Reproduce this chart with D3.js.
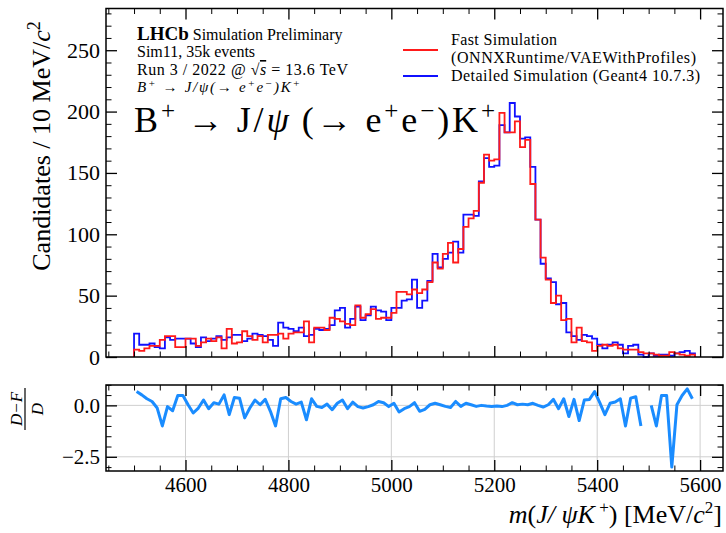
<!DOCTYPE html>
<html><head><meta charset="utf-8">
<script src="https://cdn.jsdelivr.net/npm/d3@7"></script>
<style>
body{margin:0;background:#fff;}
svg text{font-family:"Liberation Serif","Times New Roman",serif;fill:#000;}
</style></head>
<body><svg id="c" width="726" height="533"></svg>
<script>
// ---- data ----
const binStart = 4500;   // MeV, first bin edge
const binWidth = 10;     // MeV
const detailed = [19,10,10,11,8,7,16,14,15,15,
  15,11,8,16,13,15,17,14,16,18,
  18,13,15,19,18,17,14,9,28,24,
  23,21,24,17,18,23,22,23,26,38,
  40,24,31,41,30,34,41,38,37,30,
  40,40,46,47,63,40,46,62,84,73,
  80,85,94,85,116,116,115,143,162,155,
  156,189,183,207,196,178,179,155,112,76,
  64,61,43,44,20,17,14,18,17,15,
  10,7,10,12,10,3,9,10,2,0,
  3,1,2,2,1,3,4,5,3];
const fast = [6,5,7,9,9,14,17,17,8,8,
  15,15,9,12,15,13,16,7,23,11,
  12,21,17,14,17,12,18,18,19,15,
  19,20,20,29,12,24,24,22,32,31,
  29,27,26,42,32,35,39,31,32,32,
  36,53,53,51,55,52,55,61,77,72,
  84,93,77,88,106,113,119,142,165,160,
  161,199,183,183,192,171,177,141,112,81,
  63,44,50,30,31,12,24,13,12,5,
  9,10,9,10,7,6,6,6,4,3,
  3,2,1,1,4,3,2,1,2];
const ratio = [0.67,0.51,0.32,0.19,-0.13,-1.0,-0.06,-0.26,0.48,0.48,
  0.03,-0.37,-0.13,0.26,-0.16,0.13,0.06,0.51,-0.45,0.38,
  0.35,-0.61,-0.13,0.26,0.03,0.29,-0.29,-1.0,0.32,0.38,
  0.19,0.06,0.16,-0.7,0.32,-0.05,-0.1,0.06,-0.21,0.1,
  0.26,-0.16,0.16,-0.06,-0.13,-0.06,0.03,0.19,0.13,-0.06,
  0.1,-0.32,-0.16,-0.06,0.13,-0.29,-0.19,0.03,0.1,0.03,
  -0.05,-0.1,0.19,-0.05,0.1,0.03,-0.05,0,-0.03,-0.05,
  -0.03,-0.06,0,0.13,0.03,0.06,0.03,0.1,0,-0.08,
  0.03,0.29,-0.16,0.32,-0.54,0.29,-0.74,0.26,0.29,0.67,
  0.13,-0.45,0.1,0.16,0.32,-1.0,0.35,0.42,-1.0,null,
  0,-1.0,0.48,0.48,-3.0,0.03,0.48,0.8,0.32];
const xMajorTicks = [4600,4800,5000,5200,5400,5600];
const yMajorTicks = [0,50,100,150,200,250];
const rMajorTicks = [0.0,-2.5];
const legendLabels = [["Fast Simulation","(ONNXRuntime/VAEWithProfiles)"],["Detailed Simulation (Geant4 10.7.3)"]];
const colors = {fast:"#ff1a1a", detailed:"#1010ff", ratio:"#1a8cff"};

// ---- layout ----
const svg = d3.select("#c");
const L = 106, R = 723, mainTop = 8.5, mainBot = 357, rTop = 385, rBot = 471;
const x = d3.scaleLinear().domain([4445.5, 5644.5]).range([L, R]);
const y = d3.scaleLinear().domain([0, 284]).range([mainBot, mainTop]);
const yr = d3.scaleLinear().domain([-3.19, 0.99]).range([rBot, rTop]);

const nb = detailed.length;
const edges = d3.range(nb + 1).map(i => binStart + i * binWidth);
const centers = d3.range(nb).map(i => binStart + (i + 0.5) * binWidth);

// ratio grid
const gGrid = svg.append("g");
xMajorTicks.forEach(t => gGrid.append("line").attr("x1", x(t)).attr("x2", x(t)).attr("y1", rTop).attr("y2", rBot)
  .attr("stroke", "#cfcfcf").attr("stroke-width", 1));
rMajorTicks.forEach(t => gGrid.append("line").attr("x1", L).attr("x2", R).attr("y1", yr(t)).attr("y2", yr(t))
  .attr("stroke", "#cfcfcf").attr("stroke-width", 1));

// histograms
function stepPts(vals) {
  const pts = [[edges[0], 0]];
  vals.forEach((v, i) => { pts.push([edges[i], v]); pts.push([edges[i + 1], v]); });
  pts.push([edges[nb], 0]);
  return pts;
}
const line = d3.line().x(d => x(d[0])).y(d => y(d[1]));
svg.append("path").attr("d", line(stepPts(detailed))).attr("fill", "none")
  .attr("stroke", colors.detailed).attr("stroke-width", 1.8);
svg.append("path").attr("d", line(stepPts(fast))).attr("fill", "none")
  .attr("stroke", colors.fast).attr("stroke-width", 1.8);

// ratio line
const rl = d3.line().defined(d => d[1] !== null).x(d => x(d[0])).y(d => yr(d[1]));
svg.append("path").attr("d", rl(centers.map((c, i) => [c, ratio[i]]))).attr("fill", "none")
  .attr("stroke", colors.ratio).attr("stroke-width", 3).attr("stroke-linejoin", "round");

// axes helper
function ax(gen, tx, ty, vals, size, fmt, fs) {
  const a = gen.tickValues(vals).tickSizeInner(-size).tickSizeOuter(0).tickPadding(6)
    .tickFormat(fmt || "");
  const g = svg.append("g").attr("transform", `translate(${tx},${ty})`).call(a);
  g.select(".domain").remove();
  g.selectAll("line").attr("stroke", "#000").attr("stroke-width", size > 6 ? 1.3 : 1);
  g.selectAll("text").style("font-size", (fs || 21) + "px").style("font-family", "Liberation Serif, serif");
  return g;
}
const xMinor = d3.range(4450, 5650, 50).filter(v => v % 200 !== 0);
const yMinor = d3.range(0, 285, 10).filter(v => v % 50 !== 0);
const rMinor = [1.0, 0.5, -0.5, -1.0, -1.5, -2.0, -3.0];

// main panel
ax(d3.axisLeft(y), L, 0, yMajorTicks, 11, d3.format("d"), 22);
ax(d3.axisLeft(y), L, 0, yMinor, 5.5);
ax(d3.axisRight(y), R, 0, yMajorTicks, 11);
ax(d3.axisRight(y), R, 0, yMinor, 5.5);
ax(d3.axisBottom(x), 0, mainBot, xMajorTicks, 11);
ax(d3.axisBottom(x), 0, mainBot, xMinor, 5.5);
ax(d3.axisTop(x), 0, mainTop, xMajorTicks, 11);
ax(d3.axisTop(x), 0, mainTop, xMinor, 5.5);
// ratio panel
ax(d3.axisLeft(yr), L, 0, rMajorTicks, 11, d3.format(".1f"), 21);
ax(d3.axisLeft(yr), L, 0, rMinor, 5.5);
ax(d3.axisRight(yr), R, 0, rMajorTicks, 11);
ax(d3.axisRight(yr), R, 0, rMinor, 5.5);
ax(d3.axisBottom(x), 0, rBot, xMajorTicks, 11, d3.format("d"), 21);
ax(d3.axisBottom(x), 0, rBot, xMinor, 5.5);
ax(d3.axisTop(x), 0, rTop, xMajorTicks, 11);
ax(d3.axisTop(x), 0, rTop, xMinor, 5.5);

// frames
svg.append("rect").attr("x", L).attr("y", mainTop).attr("width", R - L).attr("height", mainBot - mainTop)
  .attr("fill", "none").attr("stroke", "#000").attr("stroke-width", 1.5);
svg.append("rect").attr("x", L).attr("y", rTop).attr("width", R - L).attr("height", rBot - rTop)
  .attr("fill", "none").attr("stroke", "#000").attr("stroke-width", 1.5);

// y label
const yl = svg.append("text").attr("transform", "translate(50,146) rotate(-90)").attr("text-anchor", "middle")
  .style("font-size", "26px");
yl.append("tspan").text("Candidates / 10 MeV/");
yl.append("tspan").style("font-style", "italic").text("c");
yl.append("tspan").attr("dy", -10).style("font-size", "18px").text("2");

// ratio y label (fraction)
const fr = svg.append("g").attr("transform", "translate(24,409) rotate(-90)");
fr.append("text").attr("text-anchor", "middle").attr("y", -2).style("font-size", "17px").style("font-style", "italic").text("D−F");
fr.append("line").attr("x1", -21).attr("x2", 21).attr("y1", 1).attr("y2", 1).attr("stroke", "#000").attr("stroke-width", 1.2);
fr.append("text").attr("text-anchor", "middle").attr("y", 19).style("font-size", "17px").style("font-style", "italic").text("D");

// x label
const xl = svg.append("text").attr("x", 722).attr("y", 523).attr("text-anchor", "end").style("font-size", "26px");
xl.append("tspan").style("font-style", "italic").text("m");
xl.append("tspan").text("(");
xl.append("tspan").style("font-style", "italic").text("J/ ψK");
xl.append("tspan").attr("dy", -10).style("font-size", "17px").text(" +");
xl.append("tspan").attr("dy", 10).text(") [MeV/");
xl.append("tspan").style("font-style", "italic").text("c");
xl.append("tspan").attr("dy", -10).style("font-size", "17px").text("2");
xl.append("tspan").attr("dy", 10).text("]");

// annotations
const t1 = svg.append("text").attr("x", 137).attr("y", 40);
t1.append("tspan").style("font-weight", "bold").style("font-size", "19px").text("LHCb");
t1.append("tspan").style("font-size", "16px").text(" Simulation Preliminary");
svg.append("text").attr("x", 137).attr("y", 57).style("font-size", "16px").text("Sim11, 35k events");
const t3 = svg.append("text").attr("x", 137).attr("y", 75).style("font-size", "16px")
  .attr("textLength", 211).attr("lengthAdjust", "spacing");
t3.append("tspan").text("Run 3 / 2022 @ √");
t3.append("tspan").style("font-style", "italic").style("text-decoration", "overline").text("s");
t3.append("tspan").text(" = 13.6 TeV");
const t4 = svg.append("text").attr("x", 137).attr("y", 92).style("font-size", "15px").style("font-style", "italic")
  .attr("textLength", 163).attr("lengthAdjust", "spacing");
t4.append("tspan").text("B");
t4.append("tspan").attr("dy", -5).style("font-size", "11px").text("+");
t4.append("tspan").attr("dy", 5).text(" → J/ψ(→ e");
t4.append("tspan").attr("dy", -5).style("font-size", "11px").text("+");
t4.append("tspan").attr("dy", 5).text("e");
t4.append("tspan").attr("dy", -5).style("font-size", "11px").text("−");
t4.append("tspan").attr("dy", 5).text(")K");
t4.append("tspan").attr("dy", -5).style("font-size", "11px").text("+");

// big decay label
const big = svg.append("text").attr("x", 134).attr("y", 132).style("font-size", "36px")
  .attr("textLength", 361).attr("lengthAdjust", "spacing");
big.append("tspan").text("B");
big.append("tspan").attr("dy", -13).style("font-size", "25px").text("+");
big.append("tspan").attr("dy", 13).attr("dx", 10).text("→");
big.append("tspan").attr("dx", 10).text("J/");
big.append("tspan").style("font-style", "italic").text("ψ");
big.append("tspan").attr("dx", 10).text("(→");
big.append("tspan").attr("dx", 10).text("e");
big.append("tspan").attr("dy", -13).style("font-size", "25px").text("+");
big.append("tspan").attr("dy", 13).text("e");
big.append("tspan").attr("dy", -13).style("font-size", "25px").text("−");
big.append("tspan").attr("dy", 13).text(")K");
big.append("tspan").attr("dy", -13).style("font-size", "25px").text("+");

// legend
const lg = svg.append("g");
lg.append("line").attr("x1", 403).attr("x2", 438).attr("y1", 50).attr("y2", 50).attr("stroke", colors.fast).attr("stroke-width", 2);
lg.append("line").attr("x1", 403).attr("x2", 438).attr("y1", 76).attr("y2", 76).attr("stroke", colors.detailed).attr("stroke-width", 2);
lg.append("text").attr("x", 451).attr("y", 45).style("font-size", "16px").attr("textLength", 106).attr("lengthAdjust", "spacing").text(legendLabels[0][0]);
lg.append("text").attr("x", 451).attr("y", 63).style("font-size", "16px").attr("textLength", 245).attr("lengthAdjust", "spacing").text(legendLabels[0][1]);
lg.append("text").attr("x", 451).attr("y", 81).style("font-size", "16px").attr("textLength", 249).attr("lengthAdjust", "spacing").text(legendLabels[1][0]);
</script></body></html>
